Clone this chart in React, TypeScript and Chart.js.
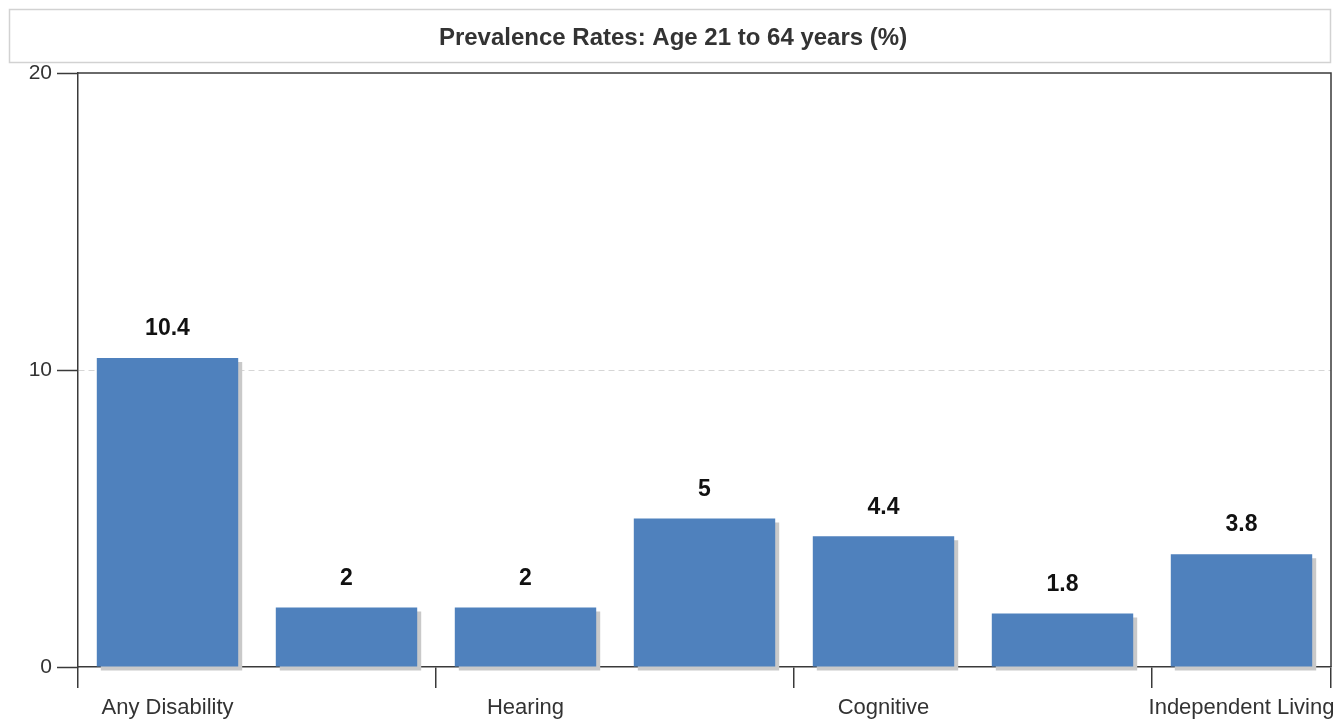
import React, { useEffect, useRef } from "react";
import { Chart, registerables } from "chart.js";

Chart.register(...registerables);

const categories = [
  "Any Disability",
  "Visual",
  "Hearing",
  "Ambulatory",
  "Cognitive",
  "Self-Care",
  "Independent Living",
];
const prevalence = [10.4, 2, 2, 5, 4.4, 1.8, 3.8];
const yTicks = [0, 10, 20];
const titleText = "Prevalence Rates: Age 21 to 64 years (%)";

const FONT = "'Liberation Sans', Arial, Helvetica, sans-serif";
const AXIS = "#3a3a3a";

const framePlugin = {
  id: "frameAndTitle",
  beforeDraw(chart: any) {
    const ctx = chart.ctx;
    ctx.save();
    ctx.fillStyle = "#ffffff";
    ctx.fillRect(0, 0, chart.width, chart.height);
    // title box
    ctx.strokeStyle = "#d2d2d2";
    ctx.lineWidth = 1.5;
    ctx.strokeRect(9.5, 9.5, 1321, 53);
    ctx.fillStyle = "#333333";
    ctx.font = `bold 24px ${FONT}`;
    ctx.textAlign = "center";
    ctx.textBaseline = "middle";
    ctx.fillText(titleText, 673, 38);
    ctx.restore();
  },
  afterDraw(chart: any) {
    const { ctx, chartArea } = chart;
    ctx.save();
    ctx.strokeStyle = AXIS;
    ctx.lineWidth = 1.5;
    const l = Math.round(chartArea.left);
    const r = Math.round(chartArea.right);
    const t = Math.round(chartArea.top);
    const b = Math.round(chartArea.bottom);
    ctx.beginPath();
    ctx.moveTo(l, t);
    ctx.lineTo(r, t);
    ctx.lineTo(r, b);
    ctx.stroke();
    ctx.restore();
  },
};

const shadowPlugin = {
  id: "barShadow",
  beforeDatasetDraw(chart: any) {
    const ctx = chart.ctx;
    ctx.save();
    ctx.shadowColor = "#c9c9c9";
    ctx.shadowOffsetX = 4;
    ctx.shadowOffsetY = 4;
    ctx.shadowBlur = 0;
  },
  afterDatasetDraw(chart: any) {
    chart.ctx.restore();
  },
};

const valueLabelPlugin = {
  id: "valueLabels",
  afterDatasetsDraw(chart: any) {
    const ctx = chart.ctx;
    const meta = chart.getDatasetMeta(0);
    ctx.save();
    ctx.fillStyle = "#111111";
    ctx.font = `bold 23px ${FONT}`;
    ctx.textAlign = "center";
    ctx.textBaseline = "middle";
    meta.data.forEach((bar: any, i: number) => {
      ctx.fillText(String(prevalence[i]), bar.x, bar.y - 29);
    });
    ctx.restore();
  },
};

export default function App() {
  const canvasRef = useRef<HTMLCanvasElement | null>(null);

  useEffect(() => {
    document.body.style.margin = "0";
    const canvas = canvasRef.current;
    if (!canvas) return;
    const chart = new Chart(canvas, {
      type: "bar",
      data: {
        labels: categories,
        datasets: [
          {
            data: prevalence,
            backgroundColor: "#4f81bd",
            borderWidth: 0,
            barPercentage: 0.79,
            categoryPercentage: 1,
            clip: false as any,
          },
        ],
      },
      options: {
        animation: false,
        responsive: false,
        devicePixelRatio: 1,
        layout: { padding: { top: 73, right: 9, left: 0, bottom: 0 } },
        plugins: {
          legend: { display: false },
          title: { display: false },
          tooltip: { enabled: false },
        },
        font: { family: FONT },
        scales: {
          x: {
            type: "category",
            offset: true,
            grid: {
              offset: true,
              drawOnChartArea: false,
              tickLength: 21,
              color: AXIS,
              lineWidth: 1.5,
              tickColor: (c: any) =>
                c.index === undefined || c.index % 2 === 0 ? AXIS : "rgba(0,0,0,0)",
            },
            border: { color: AXIS, width: 1.5 },
            ticks: {
              autoSkip: false,
              maxRotation: 0,
              padding: 7,
              color: "#333333",
              font: { family: FONT, size: 22 },
              callback: (_v: any, i: number) => (i % 2 === 0 ? categories[i] : ""),
            },
            afterFit: (s: any) => {
              s.height = 54;
              s.paddingLeft = 0;
              s.paddingRight = 0;
            },
          },
          y: {
            min: 0,
            max: 20,
            afterBuildTicks: (s: any) => {
              s.ticks = yTicks.map((v) => ({ value: v }));
            },
            grid: {
              tickLength: 21,
              lineWidth: 1,
              color: (c: any) => (c.index === 1 ? "#d6d6d6" : "rgba(0,0,0,0)"),
              tickColor: AXIS,
              tickWidth: 1.5,
            },
            border: { color: AXIS, width: 1.5, dash: [6, 4] },
            ticks: {
              padding: 5,
              color: "#333333",
              font: { family: FONT, size: 21 },
            },
            afterFit: (s: any) => {
              s.width = 78;
              s.paddingTop = 0;
              s.paddingBottom = 0;
            },
          },
        },
      } as any,
      plugins: [framePlugin, shadowPlugin, valueLabelPlugin],
    });
    return () => chart.destroy();
  }, []);

  return (
    <div style={{ width: 1340, height: 721 }}>
      <canvas ref={canvasRef} width={1340} height={721} style={{ display: "block" }} />
    </div>
  );
}
